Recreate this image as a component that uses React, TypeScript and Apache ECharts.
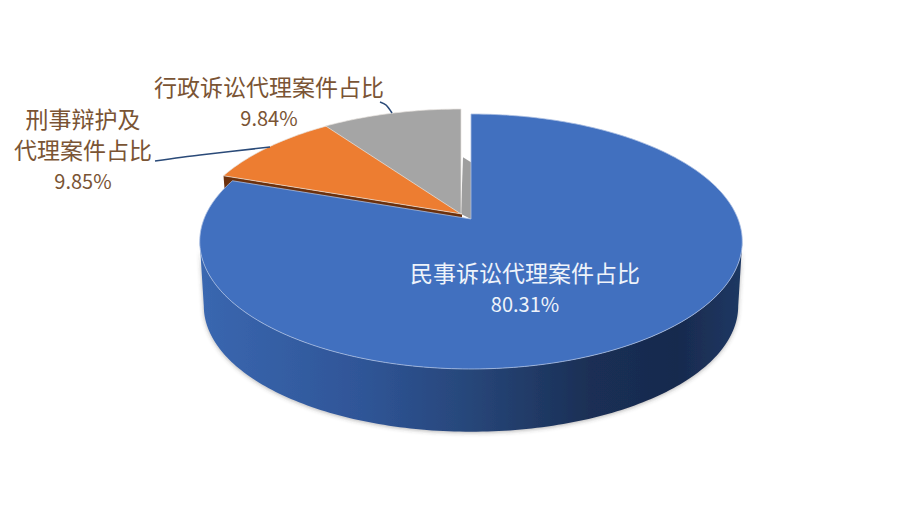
import React, { useEffect, useRef } from "react";
import * as echarts from "echarts";

const categories = ["民事诉讼代理案件占比", "刑事辩护及代理案件占比", "行政诉讼代理案件占比"];
const values = [80.31, 9.85, 9.84];
const valueLabels = ["80.31%", "9.85%", "9.84%"];
const colors = ["#4170BF", "#ED7D31", "#A5A5A5"];
const labelLines = [["民事诉讼代理案件占比"], ["刑事辩护及", "代理案件占比"], ["行政诉讼代理案件占比"]];

// projection of the tilted disc
const AX = 471, AY = 219, K = 267, H = 123.5, P = 0.1765, D = 65, S = 0.985;
const EXPLODE = [[0, 0], [-9, -5], [-10, -5]];
const LABEL_POS = [[525, 272], [83, 118], [269, 86]];
const LABEL_FILL = ["#EEF3FA", "#7A5434", "#7A5434"];
const LINE_GAP = 31;
const LEADERS: number[][][] = [[], [[155, 161], [200, 155], [270, 147]], [[380, 102], [386, 105], [392, 113]]];

const total = values.reduce((a, b) => a + b, 0);

function pt(deg: number, r = 1, off = [0, 0], depth = 0, s = 1) {
  const t = (deg * Math.PI) / 180;
  const u = Math.sin(t) * r;
  const v = Math.cos(t) * r;
  const w = 1 + P * v;
  return [AX + off[0] + (K * s * u) / w, AY + off[1] + depth - (H * s * v) / w];
}

function arc(a0: number, a1: number, off: number[], depth = 0, s = 1) {
  const out: number[][] = [];
  const n = Math.max(2, Math.ceil(Math.abs(a1 - a0)));
  for (let i = 0; i <= n; i++) out.push(pt(a0 + ((a1 - a0) * i) / n, 1, off, depth, s));
  return out;
}

function renderItem(params: any, api: any) {
  const i = params.dataIndex;
  let before = 0;
  for (let j = 0; j < i; j++) before += values[j];
  const a0 = (before / total) * 360;
  const a1 = ((before + api.value(0)) / total) * 360;
  const off = EXPLODE[i];
  const apex = pt(0, 0, off);
  const children: any[] = [];

  if (i === 0) {
    const tan = (Math.acos(-P) * 180) / Math.PI;
    const wall = arc(tan, 360 - tan, off).concat(arc(360 - tan, tan, off, D, S));
    children.push({
      type: "polygon",
      z2: 1,
      shape: { points: wall },
      style: {
        fill: new echarts.graphic.LinearGradient(0, 0, 1, 0, [
          { offset: 0, color: "#3A67B0" },
          { offset: 0.3, color: "#2F5597" },
          { offset: 0.5, color: "#274679" },
          { offset: 0.72, color: "#1A2F55" },
          { offset: 0.88, color: "#182A4E" },
          { offset: 1, color: "#1E3863" },
        ]),
        shadowColor: "rgba(60,60,60,0.4)",
        shadowBlur: 4,
        shadowOffsetY: 1,
      },
    });
  }
  if (i === 1) {
    const rim = pt(a0, 1, off);
    children.push({
      type: "polygon",
      z2: 1,
      shape: { points: [apex, rim, [rim[0] + 1, rim[1] + 13], [apex[0], apex[1] + 6]] },
      style: { fill: "#6B300C" },
    });
  }
  if (i === 2) {
    const low = pt(0, 0.5, off);
    children.push({
      type: "polygon",
      z2: 1,
      shape: {
        points: [apex, [apex[0] + 10, apex[1] + 5], [low[0] + 10, low[1] + 5], [low[0] + 2, low[1]]],
      },
      style: { fill: "#9E9E9E" },
    });
  }

  children.push({
    type: "polygon",
    z2: 2 + i,
    shape: { points: [apex].concat(arc(a0, a1, off)) },
    style: {
      fill: colors[i],
      stroke: i === 0 ? "#A9BEE2" : "#E6E3DE",
      lineWidth: i === 0 ? 0.8 : 0.7,
      lineJoin: "round",
    },
  });

  if (LEADERS[i].length) {
    children.push({
      type: "polyline",
      z2: 6,
      shape: { points: LEADERS[i], smooth: 0.3 },
      style: { stroke: "#2A4A78", lineWidth: 1.6, fill: "none" },
    });
  }

  const lines = labelLines[i].concat([valueLabels[i]]);
  lines.forEach((line, n) => {
    const isVal = n === lines.length - 1;
    children.push({
      type: "text",
      z2: 7,
      style: {
        text: line,
        x: LABEL_POS[i][0],
        y: LABEL_POS[i][1] + n * LINE_GAP,
        align: "center",
        verticalAlign: "middle",
        fill: LABEL_FILL[i],
        fontSize: isVal ? 20 : 23,
        fontFamily: '"Noto Sans CJK SC", "Noto Sans", sans-serif',
      },
    });
  });

  return { type: "group", children };
}

export default function App() {
  const ref = useRef<HTMLDivElement>(null);
  useEffect(() => {
    const chart = echarts.init(ref.current!, undefined, { renderer: "svg" });
    chart.setOption({
      animation: false,
      backgroundColor: "#FFFFFF",
      series: [
        {
          type: "custom",
          coordinateSystem: "none",
          renderItem,
          silent: true,
          data: values.map((v, i) => ({ name: categories[i], value: [v] })),
        },
      ],
    });
    return () => chart.dispose();
  }, []);
  return <div ref={ref} style={{ position: "fixed", left: 0, top: 0, width: 922, height: 519 }} />;
}
